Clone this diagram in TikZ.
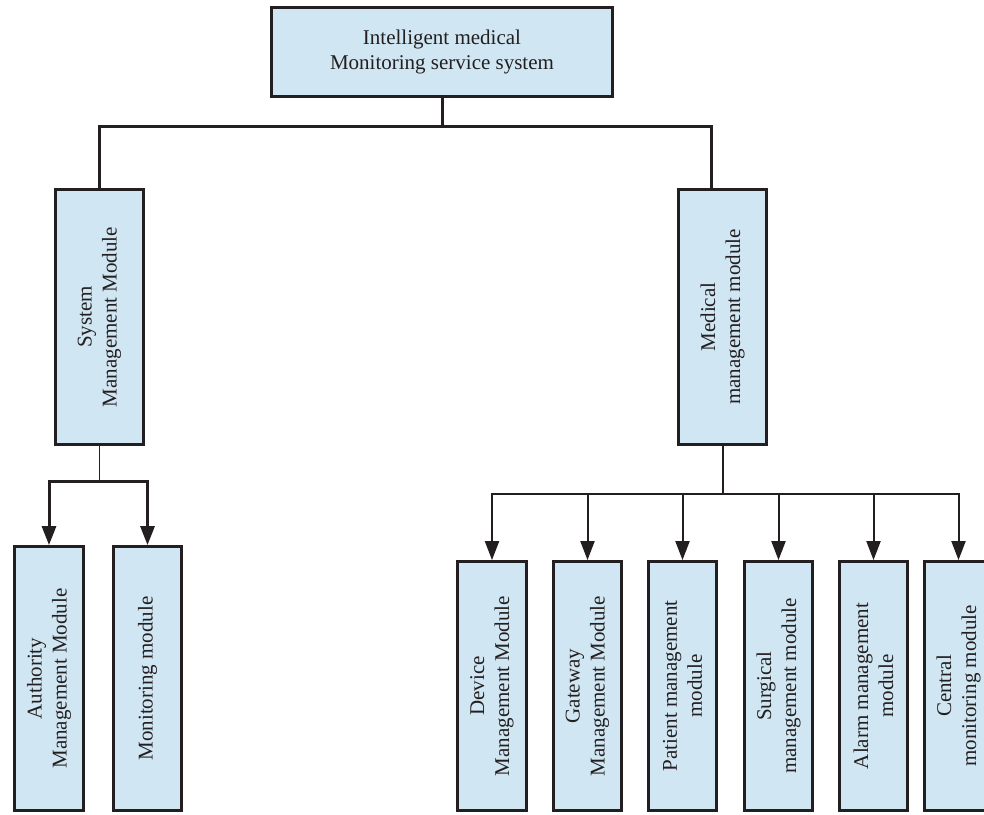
\documentclass[tikz,border=0pt]{standalone}
\usepackage{fontspec}
\setmainfont{Liberation Serif}
\usetikzlibrary{arrows.meta,calc}
\definecolor{boxfill}{RGB}{208,230,243}
\definecolor{ink}{RGB}{35,31,32}
\begin{document}
\begin{tikzpicture}[x=1pt,y=-1pt,
  box/.style={draw=ink,fill=boxfill,line width=2.8pt,inner sep=0pt,align=center,
    font=\fontsize{21}{25}\selectfont,text=ink},
  vbox/.style={box,rotate=90},
  heavy/.style={draw=ink,line width=3pt},
  light/.style={draw=ink,line width=1.4pt},
  medium/.style={draw=ink,line width=2pt},
  arr/.style={-{Triangle[length=19pt,width=14pt]}},
]
\useasboundingbox (0,0) rectangle (984,814);
\clip (0,0) rectangle (984,814);

\node[box,minimum width=341pt,minimum height=89pt] (top) at (442,52)
  {Intelligent medical\\Monitoring service system};

\node[vbox,minimum width=255pt,minimum height=88pt] (sys) at (99.5,317)
  {System\\Management Module};
\node[vbox,minimum width=255pt,minimum height=88pt] (med) at (722.5,317)
  {Medical\\management module};

\node[vbox,minimum width=264pt,minimum height=69pt] (auth) at (49,678.5)
  {Authority\\Management Module};
\node[vbox,minimum width=264pt,minimum height=68pt] (mon) at (147.5,678.5)
  {Monitoring module};

\node[vbox,minimum width=249pt,minimum height=69pt] (dev) at (492,686)
  {Device\\Management Module};
\node[vbox,minimum width=249pt,minimum height=68pt] (gw) at (587.5,686)
  {Gateway\\Management Module};
\node[vbox,minimum width=249pt,minimum height=68pt] (pat) at (682.5,686)
  {Patient management\\module};
\node[vbox,minimum width=249pt,minimum height=68pt] (sur) at (778.5,686)
  {Surgical\\management module};
\node[vbox,minimum width=249pt,minimum height=68pt] (ala) at (873.5,686)
  {Alarm management\\module};
\node[vbox,minimum width=249pt,minimum height=68pt] (cen) at (958.5,686)
  {Central\\monitoring module};

% top level
\draw[heavy] (top.south) -- ++(0,29) coordinate (tj) -| (sys.east);
\draw[heavy] (tj) -| ($(med.east)+(-11.5,0)$);

% left subtree
\draw[light] (sys.west) -- ++(0,36) coordinate (lj);
\draw[heavy,arr] (lj) -| (auth.east);
\draw[heavy,arr] (lj) -| (mon.east);

% right subtree
\draw[medium] (med.west) -- ++(0,48) coordinate (rj);
\foreach \n in {dev,gw,pat,sur,ala,cen}
  \draw[medium,arr] (rj) -| (\n.east);
\end{tikzpicture}
\end{document}
